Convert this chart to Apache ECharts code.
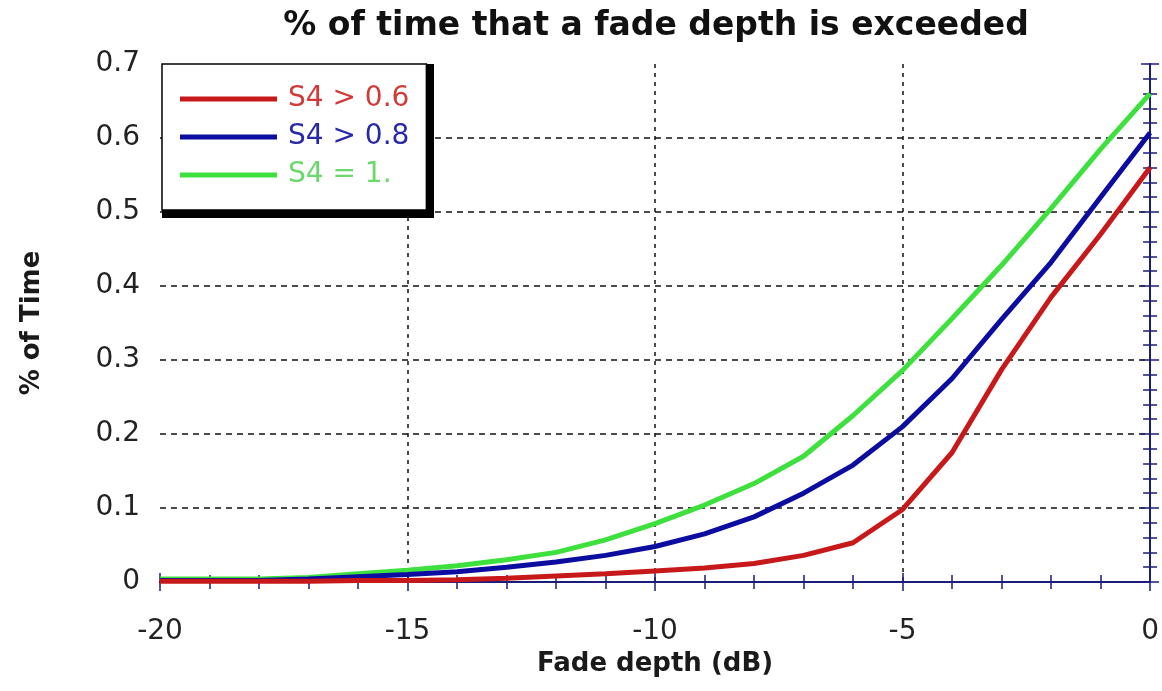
<!DOCTYPE html>
<html>
<head>
<meta charset="utf-8">
<title>Fade depth exceedance</title>
<script src="https://cdn.jsdelivr.net/npm/echarts@6/dist/echarts.min.js"></script>
<style>
  html, body { margin: 0; padding: 0; background: #ffffff; }
  #chart { width: 1162px; height: 691px; }
</style>
</head>
<body>
<div id="chart"></div>
<script>
// Fade depth in dB (x axis)
const fadeDepth = [-20, -19, -18, -17, -16, -15, -14, -13, -12, -11, -10, -9, -8, -7, -6, -5, -4, -3, -2, -1, 0];

// Percentage of time the fade depth is exceeded, per scintillation index
const s4Above06 = [0.001, 0.001, 0.001, 0.001, 0.002, 0.002, 0.003, 0.005, 0.008, 0.011, 0.015, 0.019, 0.025, 0.036, 0.053, 0.098, 0.175, 0.287, 0.385, 0.470, 0.560];
const s4Above08 = [0.002, 0.002, 0.002, 0.004, 0.007, 0.010, 0.014, 0.020, 0.027, 0.036, 0.048, 0.065, 0.088, 0.120, 0.158, 0.210, 0.275, 0.355, 0.432, 0.520, 0.607];
const s4Equal1 = [0.004, 0.004, 0.004, 0.006, 0.011, 0.016, 0.022, 0.030, 0.040, 0.057, 0.079, 0.104, 0.133, 0.170, 0.225, 0.286, 0.356, 0.428, 0.505, 0.585, 0.660];

const seriesNames = ['S4 > 0.6', 'S4 > 0.8', 'S4 = 1.'];
const xTickLabels = ['-20', '-15', '-10', '-5', '0'];
const yTickLabels = ['0', '0.1', '0.2', '0.3', '0.4', '0.5', '0.6', '0.7'];

const lineColors = ['#c8191a', '#0c0ca0', '#3ee03e'];
const textColors = ['#d23a3a', '#2a2aa8', '#6ad86a'];
const axisColor = '#1c1c7a';

function pairs(ys) {
  return fadeDepth.map((x, i) => [x, ys[i]]);
}

const chart = echarts.init(document.getElementById('chart'));

const tickFont = { fontFamily: 'DejaVu Sans', fontSize: 28, color: '#222' };
const nameFont = { fontFamily: 'DejaVu Sans', fontWeight: 'bold', fontSize: 26, color: '#1a1a1a' };

function frameAxis(extra) {
  return Object.assign({
    axisLine: { show: true, lineStyle: { color: axisColor, width: 2 } },
    axisTick: { show: true, inside: true, length: 9, lineStyle: { color: axisColor, width: 1.5 } },
    minorTick: { show: true, splitNumber: 5, length: 7, lineStyle: { color: axisColor, width: 1.5 } },
    axisLabel: { show: false },
    splitLine: { show: false }
  }, extra);
}

// legend frame: white box with a heavy black drop edge on the right and bottom
const legendBox = { left: 162, top: 64, width: 264, height: 146, edge: 8 };

const option = {
  backgroundColor: '#ffffff',
  animation: false,
  title: {
    text: '% of time that a fade depth is exceeded',
    left: 656,
    top: 10,
    padding: 0,
    textAlign: 'center',
    textStyle: { fontFamily: 'DejaVu Sans', fontWeight: 'bold', fontSize: 33, color: '#111' }
  },
  grid: { left: 160, right: 10, top: 64, bottom: 109, containLabel: false },
  graphic: [{
    type: 'rect',
    z: 3,
    silent: true,
    shape: {
      x: legendBox.left,
      y: legendBox.top,
      width: legendBox.width + legendBox.edge,
      height: legendBox.height + legendBox.edge
    },
    style: { fill: '#000000' }
  }],
  legend: {
    orient: 'vertical',
    left: legendBox.left,
    top: legendBox.top,
    width: legendBox.width,
    padding: [21, 17, 21, 18],
    itemGap: 10,
    itemWidth: 97,
    itemHeight: 5,
    icon: 'rect',
    backgroundColor: '#ffffff',
    borderColor: '#000000',
    borderWidth: 1.5,
    borderRadius: 0,
    data: seriesNames.map((n, i) => ({
      name: n,
      textStyle: { color: textColors[i], fontFamily: 'DejaVu Sans', fontSize: 28, padding: [0, 0, 0, 6] }
    }))
  },
  xAxis: [
    frameAxis({
      type: 'value',
      position: 'bottom',
      min: -20,
      max: 0,
      interval: 5,
      name: 'Fade depth (dB)',
      nameLocation: 'middle',
      nameGap: 68,
      nameTextStyle: nameFont,
      axisLabel: {
        show: true,
        margin: 36,
        ...tickFont,
        formatter: v => xTickLabels[Math.round((v + 20) / 5)]
      },
      splitLine: { show: true, showMinLine: false, showMaxLine: false, lineStyle: { color: '#111', width: 1.5, type: [4, 5] } }
    }),
    frameAxis({ type: 'value', position: 'top', min: -20, max: 0, interval: 5 })
  ],
  yAxis: [
    frameAxis({
      type: 'value',
      position: 'left',
      min: 0,
      max: 0.7,
      interval: 0.1,
      name: '% of Time',
      nameLocation: 'middle',
      nameRotate: 90,
      nameGap: 115,
      nameTextStyle: nameFont,
      axisLabel: {
        show: true,
        margin: 20,
        ...tickFont,
        formatter: v => yTickLabels[Math.round(v * 10)]
      },
      splitLine: { show: true, showMinLine: false, showMaxLine: false, lineStyle: { color: '#111', width: 1.5, type: [6, 5] } }
    }),
    frameAxis({ type: 'value', position: 'right', min: 0, max: 0.7, interval: 0.1 })
  ],
  series: [
    { name: seriesNames[2], type: 'line', data: pairs(s4Equal1), color: lineColors[2] },
    { name: seriesNames[1], type: 'line', data: pairs(s4Above08), color: lineColors[1] },
    { name: seriesNames[0], type: 'line', data: pairs(s4Above06), color: lineColors[0] }
  ].map(s => Object.assign(s, {
    xAxisIndex: 0,
    yAxisIndex: 0,
    symbol: 'none',
    showSymbol: false,
    smooth: false,
    lineStyle: { width: 5, color: s.color },
    itemStyle: { color: s.color },
    emphasis: { disabled: true },
    clip: true
  }))
};

chart.setOption(option);
</script>
</body>
</html>
